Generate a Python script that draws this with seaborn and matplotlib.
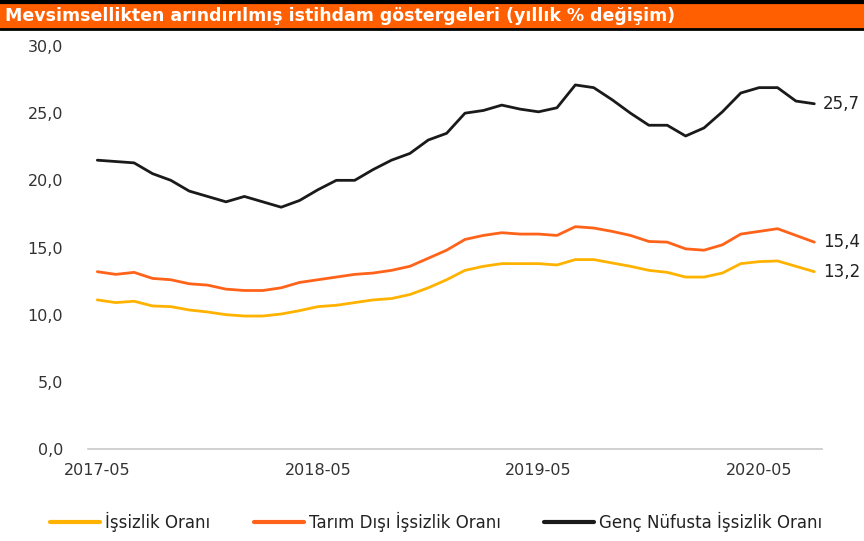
import pandas as pd
import matplotlib.pyplot as plt
import seaborn as sns

# aylar: 2017-05 .. 2020-08
aylar = pd.period_range("2017-05", "2020-08", freq="M").strftime("%Y-%m").tolist()

issizlik = [11.1, 10.9, 11.0, 10.65, 10.6, 10.35, 10.2, 10.0, 9.9, 9.9,
            10.05, 10.3, 10.6, 10.7, 10.9, 11.1, 11.2, 11.5, 12.0, 12.6,
            13.3, 13.6, 13.8, 13.8, 13.8, 13.7, 14.1, 14.1, 13.85, 13.6,
            13.3, 13.15, 12.8, 12.8, 13.1, 13.8, 13.95, 14.0, 13.6, 13.2]
tarim_disi = [13.2, 13.0, 13.15, 12.7, 12.6, 12.3, 12.2, 11.9, 11.8, 11.8,
              12.0, 12.4, 12.6, 12.8, 13.0, 13.1, 13.3, 13.6, 14.2, 14.8,
              15.6, 15.9, 16.1, 16.0, 16.0, 15.9, 16.55, 16.45, 16.2, 15.9,
              15.45, 15.4, 14.9, 14.8, 15.2, 16.0, 16.2, 16.4, 15.9, 15.4]
genc = [21.5, 21.4, 21.3, 20.5, 20.0, 19.2, 18.8, 18.4, 18.8, 18.4,
        18.0, 18.5, 19.3, 20.0, 20.0, 20.8, 21.5, 22.0, 23.0, 23.5,
        25.0, 25.2, 25.6, 25.3, 25.1, 25.4, 27.1, 26.9, 26.0, 25.0,
        24.1, 24.1, 23.3, 23.9, 25.1, 26.5, 26.9, 26.9, 25.9, 25.7]

seriler = ["İşsizlik Oranı", "Tarım Dışı İşsizlik Oranı", "Genç Nüfusta İşsizlik Oranı"]
renkler = ["#FFB300", "#FF6319", "#1a1a1a"]

df = pd.DataFrame({
    "ay_no": list(range(len(aylar))) * 3,
    "deger": issizlik + tarim_disi + genc,
    "seri": [s for s in seriler for _ in aylar],
})

sns.set_style("white")
plt.rcParams["font.family"] = ["DejaVu Sans"]

fig = plt.figure(figsize=(8.64, 5.41), dpi=100)
ax = fig.add_axes([0.102, 0.170, 0.849, 0.745])

sns.lineplot(data=df, x="ay_no", y="deger", hue="seri", palette=renkler,
             hue_order=seriler, linewidth=2.0, ax=ax, legend=False)
for ln in ax.lines:
    ln.set_solid_joinstyle("round")

ax.set_xlim(-0.5, 39.4)
ax.set_ylim(0, 30)
ax.set_yticks([0, 5, 10, 15, 20, 25, 30])
ax.set_yticklabels([f"{v:.1f}".replace(".", ",") for v in [0, 5, 10, 15, 20, 25, 30]])
xt = [0, 12, 24, 36]
ax.set_xticks(xt)
ax.set_xticklabels([aylar[i] for i in xt])
ax.tick_params(axis="both", length=0, labelsize=11.5, colors="#333333")
ax.tick_params(axis="y", pad=18)
ax.tick_params(axis="x", pad=10)
ax.set_xlabel("")
ax.set_ylabel("")
for s in ["top", "right", "left"]:
    ax.spines[s].set_visible(False)
ax.spines["bottom"].set_color("#c8c8c8")
ax.spines["bottom"].set_linewidth(1.2)

# son değer etiketleri
son = len(aylar) - 1
for vals in [genc, tarim_disi, issizlik]:
    ax.annotate(f"{vals[-1]:.1f}".replace(".", ","), xy=(son, vals[-1]),
                xytext=(6, 0), textcoords="offset points", va="center",
                fontsize=12, color="#222222", annotation_clip=False)

# başlık şeridi
fig.patches.append(plt.Rectangle((0, 0.945), 1, 0.055, transform=fig.transFigure,
                                 facecolor="#FF5F00", edgecolor="none"))
fig.lines.append(plt.Line2D([0, 1], [0.997, 0.997], transform=fig.transFigure,
                            color="black", linewidth=3))
fig.lines.append(plt.Line2D([0, 1], [0.946, 0.946], transform=fig.transFigure,
                            color="black", linewidth=2))
fig.text(0.006, 0.971, "Mevsimsellikten arındırılmış istihdam göstergeleri (yıllık % değişim)",
         color="white", fontsize=12.5, fontweight="bold", va="center", ha="left")

handles = [plt.Line2D([], [], color=c, linewidth=3) for c in renkler]
fig.legend(handles, seriler, loc="center", bbox_to_anchor=(0.505, 0.036), ncol=3,
           frameon=False, fontsize=12, handlelength=3.0, handletextpad=0.3,
           columnspacing=2.6, labelcolor="#222222")

plt.savefig("out.png", dpi=100)
